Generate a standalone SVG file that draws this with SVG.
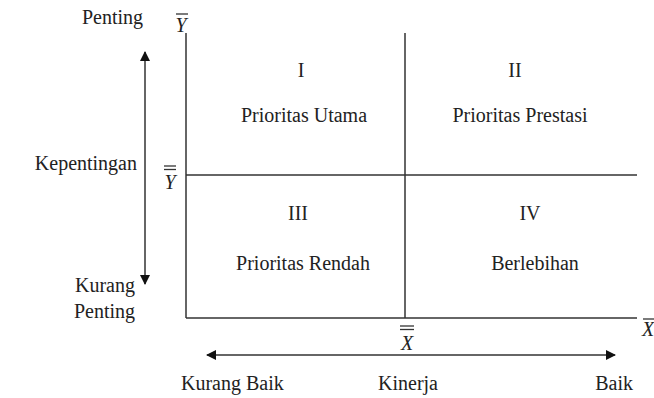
<svg xmlns="http://www.w3.org/2000/svg" width="654" height="398" viewBox="0 0 654 398">
<style>
.c{text-anchor:middle}
.r{text-anchor:end}
.i{font-style:italic}
.ln{stroke:#333;stroke-width:1.5;fill:none}
.bar{stroke:#333;stroke-width:1.3}
</style>
<defs>
<marker id="ah" viewBox="0 0 10 10" refX="9" refY="5" markerWidth="10" markerHeight="10" markerUnits="userSpaceOnUse" orient="auto-start-reverse">
<path d="M0,0 L10,5 L0,10 Z" fill="#111"/>
</marker>
</defs>
<rect width="654" height="398" fill="#fff"/>
<g id="connectors">
<line class="ln" x1="186" y1="33" x2="186" y2="318"/>
<line class="ln" x1="186" y1="318" x2="637" y2="318"/>
<line class="ln" x1="405" y1="33" x2="405" y2="318"/>
<line class="ln" x1="186" y1="175" x2="637" y2="175"/>
<line class="ln" x1="145" y1="52" x2="145" y2="284" marker-start="url(#ah)" marker-end="url(#ah)"/>
<line class="ln" x1="207" y1="355" x2="615" y2="355" marker-start="url(#ah)" marker-end="url(#ah)"/>
</g>
<g font-family="'Liberation Serif', serif" font-size="20" fill="#222">
<g id="axis-labels">
<text class="r" x="143" y="24">Penting</text>
<text class="c i" x="181" y="32">Y</text>
<line class="bar" x1="176" y1="14" x2="188" y2="14"/>
<text class="r" x="137" y="170">Kepentingan</text>
<line class="bar" x1="164" y1="166" x2="176" y2="166"/>
<line class="bar" x1="164" y1="169.5" x2="176" y2="169.5"/>
<text class="c i" x="170" y="189">Y</text>
<text class="r" x="135" y="292">Kurang</text>
<text class="r" x="135" y="318">Penting</text>
<line class="bar" x1="400" y1="326" x2="414" y2="326"/>
<line class="bar" x1="400" y1="329.5" x2="414" y2="329.5"/>
<text class="c i" x="407" y="350">X</text>
<text class="i" x="642" y="336">X</text>
<line class="bar" x1="643" y1="319" x2="654" y2="319"/>
<text x="181" y="390">Kurang Baik</text>
<text class="c" x="408" y="390">Kinerja</text>
<text class="r" x="633" y="390">Baik</text>
</g>
<g id="q1">
<text class="c" x="301" y="77">I</text>
<text class="c" x="304" y="122">Prioritas Utama</text>
</g>
<g id="q2">
<text class="c" x="515" y="77">II</text>
<text class="c" x="520" y="122">Prioritas Prestasi</text>
</g>
<g id="q3">
<text class="c" x="298" y="220">III</text>
<text class="c" x="303" y="270">Prioritas Rendah</text>
</g>
<g id="q4">
<text class="c" x="530" y="220">IV</text>
<text class="c" x="535" y="270">Berlebihan</text>
</g>
</g>
</svg>
